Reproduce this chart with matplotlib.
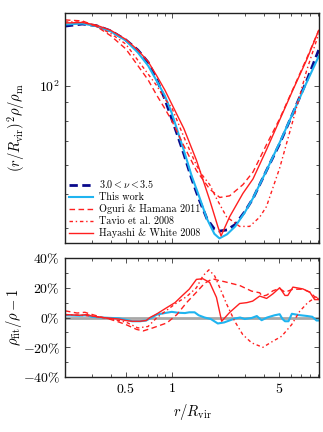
import matplotlib
matplotlib.use('Agg')
import matplotlib.pyplot as plt
from matplotlib.ticker import FixedLocator, NullFormatter

plt.rcParams['font.family'] = 'serif'
plt.rcParams['font.serif'] = ['cmr10']
plt.rcParams['mathtext.fontset'] = 'cm'
plt.rcParams['axes.unicode_minus'] = False
plt.rcParams['axes.formatter.use_mathtext'] = True

# ---- top panel: (r/Rvir)^2 rho/rho_m ----
r_top = [0.2, 0.26, 0.32, 0.4, 0.5, 0.6, 0.7, 0.8, 0.9, 1.0, 1.1, 1.2, 1.35,
         1.5, 1.7, 1.9, 2.05, 2.3, 2.6, 3.0, 3.4, 4.16, 5.08, 6.2, 7.6, 9.14]
prof_data = [147, 149, 147.5, 142.5, 134.5, 126, 116.5, 104, 92, 81, 72, 64.5, 55,
             48.5, 42.5, 39.8, 39.3, 39.6, 41, 44.5, 48.5, 58, 69, 84, 103, 126]
prof_this = [148.5, 149.5, 147, 142, 134, 124, 114, 103, 94, 84, 74, 66, 56,
             49.5, 42.5, 38.6, 37.5, 38.5, 40.5, 44.3, 48.6, 58, 69.5, 84, 102, 121]

r_hw = [0.2, 0.26, 0.32, 0.4, 0.5, 0.6, 0.7, 0.8, 0.9, 1.0, 1.2, 1.45, 1.77, 2.0,
        2.1, 2.39, 2.92, 3.4, 4.16, 5.08, 6.2, 7.6, 9.14]
prof_hw = [150, 150.5, 148, 143, 135, 126, 117, 106.5, 97.5, 89, 76, 62, 48, 40.5,
           38.1, 43.1, 50.1, 55, 66.3, 80.4, 97.5, 118, 143]

r_oh = [0.2, 0.26, 0.32, 0.4, 0.5, 0.6, 0.7, 0.8, 0.9, 1.0, 1.2, 1.45, 1.77, 2.06,
        2.39, 2.92, 3.4, 4.16, 5.08, 6.2, 7.6, 9.14]
prof_oh = [153, 152, 147, 138, 127, 114, 104, 94, 86.5, 80, 68, 58, 51.5, 48.8,
           49.3, 53, 57.5, 68.5, 81, 98, 119, 143]

r_tv = [0.2, 0.26, 0.32, 0.4, 0.5, 0.6, 0.7, 0.8, 0.9, 1.0, 1.2, 1.45, 1.6, 1.77,
        1.96, 2.28, 2.78, 3.23, 3.76, 4.16, 5.08, 6.2, 7.6, 9.14]
prof_tv = [151, 151, 147, 140, 131, 118, 108, 100, 92, 87, 72, 60, 56, 53,
           48.5, 43.1, 40.5, 40.5, 43, 46, 59, 80, 110, 140]

# ---- bottom panel: rho_fit/rho - 1 (percent) ----
r_res_this = [0.2, 0.25, 0.28, 0.3, 0.35, 0.4, 0.45, 0.5, 0.55, 0.62, 0.68, 0.74,
              0.8, 0.9, 1.0, 1.1, 1.22, 1.3, 1.41, 1.5, 1.64, 1.8, 2.0, 2.2, 2.58,
              2.8, 3.0, 3.33, 3.6, 3.87, 4.2, 4.7, 5.08, 5.3, 5.5, 5.8, 6.1, 6.5,
              6.85, 7.7, 8.3, 8.85, 9.14]
res_this = [1.5, 1.2, 1.5, 0.5, 0, -0.3, -0.5, -1.5, -2.5, -2.5, -2, 0,
            2, 3, 3.8, 3.2, 3, 3.5, 3.5, 1.5, 0, -1, -4, -3.3, -0.7,
            0, -1, -0.3, 1, -1.8, 0, 1.5, 2.2, -1, -2.5, -2.5, 2.5, 2,
            1.6, 1, 0.5, -2, -2]

r_res_hw = [0.2, 0.25, 0.28, 0.3, 0.35, 0.4, 0.45, 0.5, 0.55, 0.62, 0.68, 0.72,
            0.8, 0.93, 1.05, 1.18, 1.3, 1.45, 1.6, 1.77, 1.96, 2.12, 2.39, 2.78,
            3.1, 3.38, 3.76, 4.17, 4.6, 5.08, 5.5, 5.74, 6.2, 7.2, 8.0, 8.6, 9.14]
res_hw = [2, 1.5, 2, 1, 0, -0.5, -1, -2, -2.5, -2.5, -2, 0,
          2.5, 6.7, 10, 15, 19, 25.6, 26, 23.5, 13.5, -2.5, 3.4, 9.4,
          10, 11, 14.4, 12.8, 16, 20, 14.8, 14.8, 20.4, 19.2, 17, 12, 12]

r_res_oh = [0.2, 0.24, 0.27, 0.29, 0.34, 0.39, 0.45, 0.5, 0.59, 0.65, 0.75, 0.93,
            1.08, 1.25, 1.45, 1.64, 1.85, 2.0, 2.22, 2.78, 3.33, 3.76, 3.9, 4.17,
            4.6, 5.08, 5.5, 6.2, 7.2, 8.0, 8.6, 9.14]
res_oh = [4.5, 3, 3.5, 2.5, 0.5, -1, -3, -4.7, -8, -9, -7, -3.6,
          2, 10, 17, 23, 26, 25, 24, 21.5, 17.7, 16.6, 14.3, 15,
          18, 19.5, 17, 19, 19, 17, 14, 13]

r_res_tv = [0.2, 0.25, 0.3, 0.35, 0.4, 0.5, 0.6, 0.7, 0.8, 0.93, 1.08, 1.25, 1.45,
            1.6, 1.75, 1.91, 2.06, 2.29, 2.58, 2.91, 3.33, 3.94, 4.57, 5.23,
            6.09, 6.87, 7.75, 8.85, 9.14]
res_tv = [2, 1.5, 1, 0, -1, -3, -7, -6, 0, 5, 10, 14, 20,
          28, 32, 27.8, 20, 8.8, -2.5, -11.4, -17, -20, -16, -12.6,
          -4.7, 4.2, 10, 14, 12]

legend_labels = [r'$3.0 < \nu < 3.5$', 'This work', 'Oguri & Hamana 2011',
                 'Tavio et al. 2008', 'Hayashi & White 2008']

navy = '#0a0a8c'
cyan = '#1fb4f0'
red = '#ff1f1f'
dashdot = (0, (2.5, 2, 1, 2))

fig = plt.figure(figsize=(3.23, 4.32), dpi=100)
ax1 = fig.add_axes([0.201, 0.4375, 0.787, 0.5325])
ax2 = fig.add_axes([0.201, 0.127, 0.787, 0.276])

ax1.plot(r_top, prof_data, color=navy, lw=2.0, ls=(0, (3, 1.6)), label=legend_labels[0])
ax1.plot(r_top, prof_this, color=cyan, lw=1.5, label=legend_labels[1])
ax1.plot(r_oh, prof_oh, color=red, lw=1.0, ls=(0, (4, 2.5)), label=legend_labels[2])
ax1.plot(r_tv, prof_tv, color=red, lw=1.0, ls=dashdot, label=legend_labels[3])
ax1.plot(r_hw, prof_hw, color=red, lw=1.0, label=legend_labels[4])

ax2.axhline(0, color='#a8a8a8', lw=2.0, zorder=1)
ax2.plot(r_res_this, res_this, color=cyan, lw=1.5)
ax2.plot(r_res_oh, res_oh, color=red, lw=1.0, ls=(0, (4, 2.5)))
ax2.plot(r_res_tv, res_tv, color=red, lw=1.0, ls=dashdot)
ax2.plot(r_res_hw, res_hw, color=red, lw=1.0)

major_x = [0.5, 1, 5]
minor_x = [0.2, 0.3, 0.4, 0.6, 0.7, 0.8, 0.9, 2, 3, 4, 6, 7, 8, 9]

for ax in (ax1, ax2):
    ax.set_xscale('log')
    ax.set_xlim(0.2, 9.2)
    ax.xaxis.set_major_locator(FixedLocator(major_x))
    ax.xaxis.set_minor_locator(FixedLocator(minor_x))
    ax.xaxis.set_minor_formatter(NullFormatter())
    ax.tick_params(which='both', direction='in', top=True, right=True,
                   labelsize=10, width=0.6, color='#333333')
    ax.tick_params(which='major', length=3.5)
    ax.tick_params(which='minor', length=2.5)
    for s in ax.spines.values():
        s.set_linewidth(1.0)
        s.set_color('#222222')

ax1.set_yscale('log')
ax1.set_ylim(36.4, 160)
ax1.yaxis.set_major_locator(FixedLocator([100]))
ax1.set_yticklabels([r'$10^2$'])
ax1.yaxis.set_minor_locator(FixedLocator([40, 50, 60, 70, 80, 90]))
ax1.yaxis.set_minor_formatter(NullFormatter())
ax1.set_xticklabels([])
ax1.set_ylabel(r'$(r/R_{\rm vir})^2\rho/\rho_{\rm m}$', fontsize=10.5)
ax1.yaxis.set_label_coords(-0.15, 0.5)

ax1.legend(loc='lower left', frameon=False, fontsize=7.3, handlelength=2.3,
           labelspacing=0.22, borderaxespad=0.05, handletextpad=0.6)

ax2.set_ylim(-40, 40)
ax2.yaxis.set_major_locator(FixedLocator([-40, -20, 0, 20, 40]))
ax2.set_yticklabels([r'$-40\%$', r'$-20\%$', r'$0\%$', r'$20\%$', r'$40\%$'])
ax2.yaxis.set_minor_locator(FixedLocator([-30, -10, 10, 30]))
ax2.set_xticklabels([r'$0.5$', r'$1$', r'$5$'])
ax2.set_ylabel(r'$\rho_{\rm fit}/\rho - 1$', fontsize=10.5)
ax2.yaxis.set_label_coords(-0.16, 0.5)
ax2.set_xlabel(r'$r/R_{\rm vir}$', fontsize=10.5)

fig.savefig('out.png', dpi=100)
